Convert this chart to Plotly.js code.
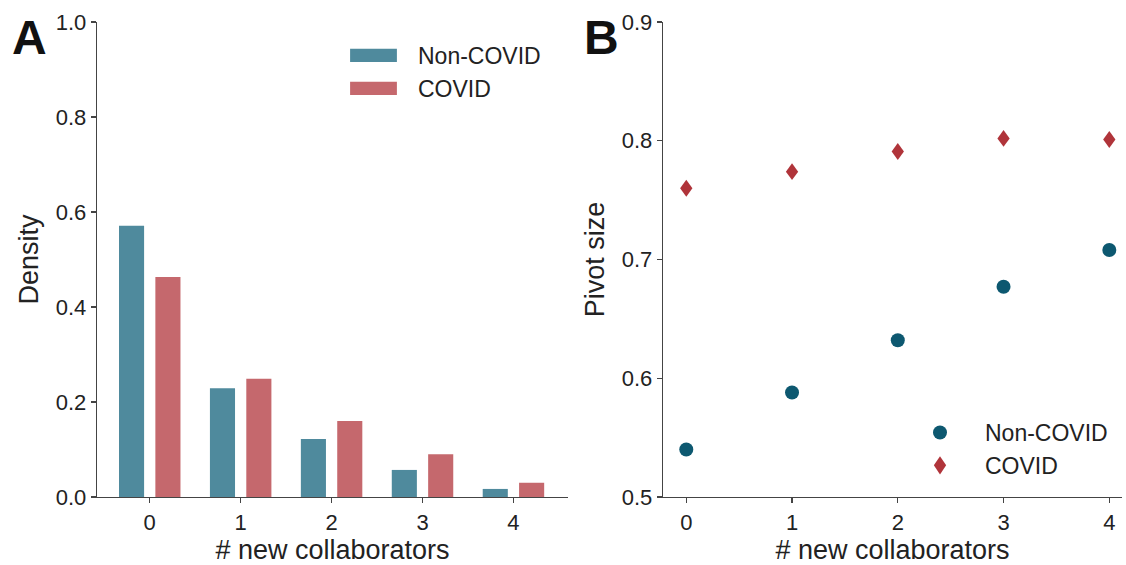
<!DOCTYPE html>
<html>
<head>
<meta charset="utf-8">
<script src="https://cdn.plot.ly/plotly-3.0.1.min.js"></script>
<style>html,body{margin:0;padding:0;background:#fff;}#chart{width:1126px;height:565px;}</style>
</head>
<body>
<div id="chart"></div>
<script>
// Panel A: density of # new collaborators
const categoriesA = [0, 1, 2, 3, 4];
const densityNonCovid = [0.571, 0.229, 0.122, 0.057, 0.017];
const densityCovid = [0.463, 0.249, 0.160, 0.090, 0.030];

// Panel B: pivot size vs # new collaborators
const categoriesB = [0, 1, 2, 3, 4];
const pivotNonCovid = [0.540, 0.588, 0.632, 0.677, 0.708];
const pivotCovid = [0.760, 0.774, 0.791, 0.802, 0.801];

const seriesNames = ["Non-COVID", "COVID"];
const xTitle = "# new collaborators";
const yTitleA = "Density";
const yTitleB = "Pivot size";
const yTicksA = [0, 0.2, 0.4, 0.6, 0.8, 1.0];
const yTicksB = [0.5, 0.6, 0.7, 0.8, 0.9];

const FONT = "Liberation Sans, Arial, Helvetica, sans-serif";
const W = 1126, H = 565;
const yDom = [1 - 497 / H, 1 - 22 / H];

const traces = [
  {type: "bar", x: categoriesA, y: densityNonCovid, name: seriesNames[0],
   marker: {color: "#4f8a9d"}, xaxis: "x", yaxis: "y", legend: "legend"},
  {type: "bar", x: categoriesA, y: densityCovid, name: seriesNames[1],
   marker: {color: "#c5686d"}, xaxis: "x", yaxis: "y", legend: "legend"},
  {type: "scatter", mode: "markers", x: categoriesB, y: pivotNonCovid, name: seriesNames[0],
   marker: {color: "#0d5870", size: 14, symbol: "circle"}, xaxis: "x2", yaxis: "y2", legend: "legend2"},
  {type: "scatter", mode: "markers", x: categoriesB, y: pivotCovid, name: seriesNames[1],
   marker: {color: "#b0343a", size: 13, symbol: "diamond-tall"}, xaxis: "x2", yaxis: "y2", legend: "legend2"}
];

const tickFont = {family: FONT, size: 22, color: "#222"};
const titleFont = {family: FONT, size: 27, color: "#222"};
const axisCommon = {
  showgrid: false, zeroline: false, showline: true, linecolor: "#444", linewidth: 1.3,
  ticks: "outside", ticklen: 5, tickwidth: 1.3, tickcolor: "#444",
  tickfont: tickFont
};

const layout = {
  width: W, height: H,
  margin: {l: 0, r: 0, t: 0, b: 0},
  paper_bgcolor: "#fff", plot_bgcolor: "#fff",
  font: {family: FONT, color: "#222"},
  barmode: "group", bargap: 0.2, bargroupgap: 0.31,
  showlegend: true,
  xaxis: Object.assign({}, axisCommon, {
    domain: [97 / W, 568 / W], range: [-0.58, 4.6], tickvals: categoriesA,
    anchor: "y", title: {text: xTitle, font: titleFont, standoff: 5}
  }),
  yaxis: Object.assign({}, axisCommon, {
    domain: yDom, range: [0, 1], tickvals: yTicksA, tickformat: ".1f",
    anchor: "x", title: {text: yTitleA, font: titleFont, standoff: 9}
  }),
  xaxis2: Object.assign({}, axisCommon, {
    domain: [663 / W, 1122 / W], range: [-0.22, 4.12], tickvals: categoriesB,
    anchor: "y2", title: {text: xTitle, font: titleFont, standoff: 5}
  }),
  yaxis2: Object.assign({}, axisCommon, {
    domain: yDom, range: [0.5, 0.9], tickvals: yTicksB, tickformat: ".1f",
    anchor: "x2", title: {text: yTitleB, font: titleFont, standoff: 9}
  }),
  legend: {x: 329 / W, y: 1 - 34 / H, xanchor: "left", yanchor: "top", bgcolor: "rgba(0,0,0,0)",
    font: {family: FONT, size: 23, color: "#222"}, itemwidth: 79, tracegroupgap: 0},
  legend2: {x: 895 / W, y: 1 - 411 / H, xanchor: "left", yanchor: "top", bgcolor: "rgba(0,0,0,0)",
    font: {family: FONT, size: 23, color: "#222"}, itemwidth: 80, tracegroupgap: 0},
  annotations: [
    {text: "<b>A</b>", x: 10 / W, y: 1 - 9 / H, xref: "paper", yref: "paper", xanchor: "left", yanchor: "top",
     showarrow: false, font: {family: FONT, size: 48, color: "#111"}},
    {text: "<b>B</b>", x: 582 / W, y: 1 - 9 / H, xref: "paper", yref: "paper", xanchor: "left", yanchor: "top",
     showarrow: false, font: {family: FONT, size: 48, color: "#111"}}
  ]
};

function addScale(el, sx, sy) {
  const t = el.getAttribute("transform") || "";
  el.setAttribute("transform", t + " scale(" + sx + "," + sy + ")");
}

Plotly.newPlot("chart", traces, layout, {displayModeBar: false, staticPlot: true}).then(function () {
  // widen the bar legend swatches to the reference's wide rectangles
  document.querySelectorAll(".legend .legendpoints path").forEach(function (p) { addScale(p, 3.9, 1.1); });
  // make the COVID diamonds a little wider, as in the reference
  const scTraces = document.querySelectorAll(".scatterlayer .trace");
  if (scTraces.length > 1) {
    scTraces[1].querySelectorAll("path.point").forEach(function (p) { addScale(p, 1.35, 0.93); });
  }
  const lg2 = document.querySelectorAll(".legend2 .traces, .legend .traces");
  lg2.forEach(function (t) {
    t.querySelectorAll(".legendpoints path.scatterpts").forEach(function (p) {
      if ((p.getAttribute("d") || "").indexOf("L0,") >= 0) addScale(p, 1.35, 1.0);
    });
  });
});
</script>
</body>
</html>
